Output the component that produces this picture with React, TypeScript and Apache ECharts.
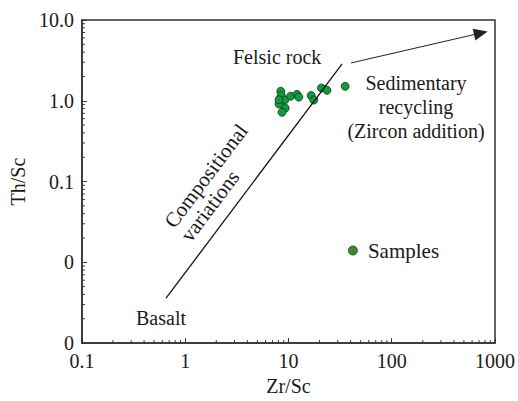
import React, { useEffect, useRef } from "react";
import * as echarts from "echarts";

const FONT = "Liberation Serif";

// Samples: [Zr/Sc, Th/Sc]
const sampleZrSc = [8.42, 8.53, 9.2, 10.5, 12.1, 12.6, 8.1, 9.3, 8.66, 16.6, 17.6, 20.9, 23.6, 35.4, 8.1];
const sampleThSc = [1.31, 1.16, 1.02, 1.14, 1.2, 1.11, 0.91, 0.81, 0.72, 1.16, 1.02, 1.44, 1.35, 1.51, 1.03];

// Compositional variation trend (basalt -> felsic rock)
const trendZrSc = [0.653, 33.1];
const trendThSc = [0.0036, 2.86];

// Sedimentary recycling arrow
const arrowZrSc = [40.4, 729];
const arrowThSc = [2.94, 6.9];

const xTickValues = [0.1, 1, 10, 100, 1000];
const yTickValues = [0.001, 0.01, 0.1, 1, 10];
const minorMultipliers = [2, 3, 4, 5, 6, 7, 8, 9];

export default function App() {
  const ref = useRef<HTMLDivElement>(null);

  useEffect(() => {
    if (!ref.current) return;
    const chart = echarts.init(ref.current, null, { renderer: "svg" });

    const xMin = xTickValues[0];
    const xMax = xTickValues[xTickValues.length - 1];
    const yMin = yTickValues[0];
    const yMax = yTickValues[yTickValues.length - 1];

    const xMinor: number[][] = [];
    for (let i = 0; i < xTickValues.length - 1; i++) {
      minorMultipliers.forEach((m) => xMinor.push([xTickValues[i] * m, yMin]));
    }
    const yMinor: number[][] = [];
    for (let i = 0; i < yTickValues.length - 1; i++) {
      minorMultipliers.forEach((m) => yMinor.push([xMin, yTickValues[i] * m]));
    }

    const axisColor = "#333";
    const textColor = "#1a1a1a";
    const rot = (53 * Math.PI) / 180;

    chart.setOption({
      animation: false,
      textStyle: { fontFamily: FONT },
      grid: {
        left: 80,
        right: 21,
        top: 20,
        bottom: 50,
        show: true,
        borderColor: axisColor,
        borderWidth: 1.5,
      },
      xAxis: {
        type: "log",
        logBase: 10,
        min: xMin,
        max: xMax,
        name: "Zr/Sc",
        nameLocation: "middle",
        nameGap: 28,
        nameTextStyle: { fontFamily: FONT, fontSize: 20, color: textColor },
        axisLine: { lineStyle: { color: axisColor, width: 1.5 } },
        axisTick: { inside: true, length: 5, lineStyle: { color: axisColor } },
        axisLabel: {
          fontFamily: FONT,
          fontSize: 20,
          lineHeight: 16,
          color: textColor,
          margin: 10,
          formatter: (v: number) => String(v),
        },
        splitLine: { show: false },
      },
      yAxis: {
        type: "log",
        logBase: 10,
        min: yMin,
        max: yMax,
        name: "Th/Sc",
        nameLocation: "middle",
        nameGap: 52,
        nameTextStyle: { fontFamily: FONT, fontSize: 20, color: textColor },
        axisLine: { lineStyle: { color: axisColor, width: 1.5 } },
        axisTick: { inside: true, length: 5, lineStyle: { color: axisColor } },
        axisLabel: {
          fontFamily: FONT,
          fontSize: 20,
          lineHeight: 16,
          color: textColor,
          margin: 8,
          formatter: (v: number) => (v >= 0.1 ? v.toFixed(1) : "0"),
        },
        splitLine: { show: false },
      },
      legend: {
        data: [{ name: "Samples", icon: "circle", itemStyle: { color: "#3d8a2e", borderColor: "#1d3d16", borderWidth: 0.8 } }],
        left: 343,
        top: 235,
        itemWidth: 20,
        itemHeight: 9,
        itemGap: 6,
        textStyle: { fontFamily: FONT, fontSize: 21, color: textColor },
      },
      series: [
        {
          type: "custom",
          name: "xminor",
          data: xMinor,
          silent: true,
          renderItem: (params: any, api: any) => {
            const p = api.coord([api.value(0), api.value(1)]);
            return {
              type: "line",
              shape: { x1: p[0], y1: p[1], x2: p[0], y2: p[1] - 3 },
              style: { stroke: axisColor, lineWidth: 1 },
            };
          },
        },
        {
          type: "custom",
          name: "yminor",
          data: yMinor,
          silent: true,
          renderItem: (params: any, api: any) => {
            const p = api.coord([api.value(0), api.value(1)]);
            return {
              type: "line",
              shape: { x1: p[0], y1: p[1], x2: p[0] + 3, y2: p[1] },
              style: { stroke: axisColor, lineWidth: 1 },
            };
          },
        },
        {
          type: "line",
          name: "trend",
          data: trendZrSc.map((x, i) => [x, trendThSc[i]]),
          showSymbol: false,
          symbol: "none",
          lineStyle: { color: "#111", width: 1.3 },
          silent: true,
          markLine: {
            silent: true,
            symbol: ["none", "triangle"],
            symbolSize: [12, 14],
            label: { show: false },
            lineStyle: { color: "#222", width: 1, type: "solid" },
            data: [
              [
                { coord: [arrowZrSc[0], arrowThSc[0]] },
                { coord: [arrowZrSc[1], arrowThSc[1]] },
              ],
            ],
          },
        },
        {
          type: "scatter",
          name: "Samples",
          data: sampleZrSc.map((x, i) => [x, sampleThSc[i]]),
          symbol: "circle",
          symbolSize: 8,
          itemStyle: { color: "#119a40", borderColor: "#0a3d18", borderWidth: 0.8, opacity: 1 },
        },
      ],
      graphic: [
        {
          type: "text",
          x: 233,
          y: 57,
          style: {
            text: "Felsic rock",
            fontFamily: FONT,
            fontSize: 20,
            fill: textColor,
            verticalAlign: "middle",
          },
        },
        {
          type: "text",
          x: 416,
          y: 71,
          style: {
            text: "Sedimentary\nrecycling\n(Zircon addition)",
            fontFamily: FONT,
            fontSize: 20,
            lineHeight: 24,
            fill: textColor,
            align: "center",
            verticalAlign: "top",
          },
        },
        {
          type: "text",
          x: 206,
          y: 176,
          rotation: rot,
          style: {
            text: "Compositional",
            fontFamily: FONT,
            fontSize: 21,
            fill: textColor,
            align: "center",
            verticalAlign: "middle",
          },
        },
        {
          type: "text",
          x: 210,
          y: 206,
          rotation: rot,
          style: {
            text: "variations",
            fontFamily: FONT,
            fontSize: 21,
            fill: textColor,
            align: "center",
            verticalAlign: "middle",
          },
        },
        {
          type: "text",
          x: 161,
          y: 318,
          style: {
            text: "Basalt",
            fontFamily: FONT,
            fontSize: 20,
            fill: textColor,
            align: "center",
            verticalAlign: "middle",
          },
        },
      ],
    });

    return () => chart.dispose();
  }, []);

  return (
    <div
      ref={ref}
      style={{ position: "absolute", left: 0, top: 0, width: 518, height: 401 }}
    />
  );
}
